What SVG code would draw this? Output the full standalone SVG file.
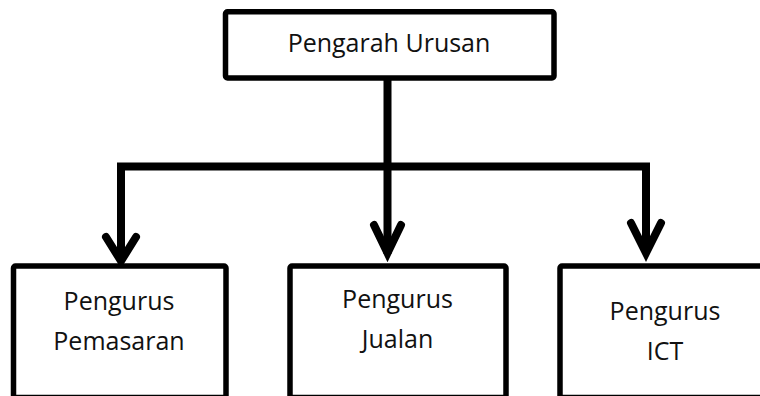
<svg xmlns="http://www.w3.org/2000/svg" width="760" height="396" viewBox="0 0 760 396">
<style>
.box{fill:#fff;stroke:#000;stroke-width:5.5;stroke-linejoin:round}
.lbl{font-family:"Open Sans","Noto Sans",sans-serif;font-size:25px;fill:#111;text-anchor:middle}
.con{fill:none;stroke:#000;stroke-width:8}
.head{fill:none;stroke:#000;stroke-width:8;stroke-linecap:round;stroke-linejoin:miter}
</style>
<rect width="760" height="396" fill="#fff"/>
<g id="connectors">
<path class="con" d="M387.5,78 V254"/>
<path class="con" d="M121,262 V166.5 H646 V254"/>
<path class="head" d="M106,237 L121,261 L136,237"/>
<path class="head" d="M374,225 L387.5,253 L401,225"/>
<path class="head" d="M631,223 L646,253 L661,223"/>
</g>
<g id="pengarah">
<rect class="box" x="225.5" y="11.8" width="328.5" height="66.2" rx="2"/>
<text class="lbl" x="389" y="52">Pengarah Urusan</text>
</g>
<g id="pemasaran">
<rect class="box" x="13.5" y="266" width="212.5" height="131.5" rx="2"/>
<text class="lbl" x="119" y="310">Pengurus</text>
<text class="lbl" x="119" y="350">Pemasaran</text>
</g>
<g id="jualan">
<rect class="box" x="290" y="266" width="216" height="131.5" rx="2"/>
<text class="lbl" x="397.5" y="308">Pengurus</text>
<text class="lbl" x="397.5" y="348">Jualan</text>
</g>
<g id="ict">
<rect class="box" x="560" y="266" width="220" height="131.5" rx="2"/>
<text class="lbl" x="665" y="320">Pengurus</text>
<text class="lbl" x="665" y="360">ICT</text>
</g>
</svg>
